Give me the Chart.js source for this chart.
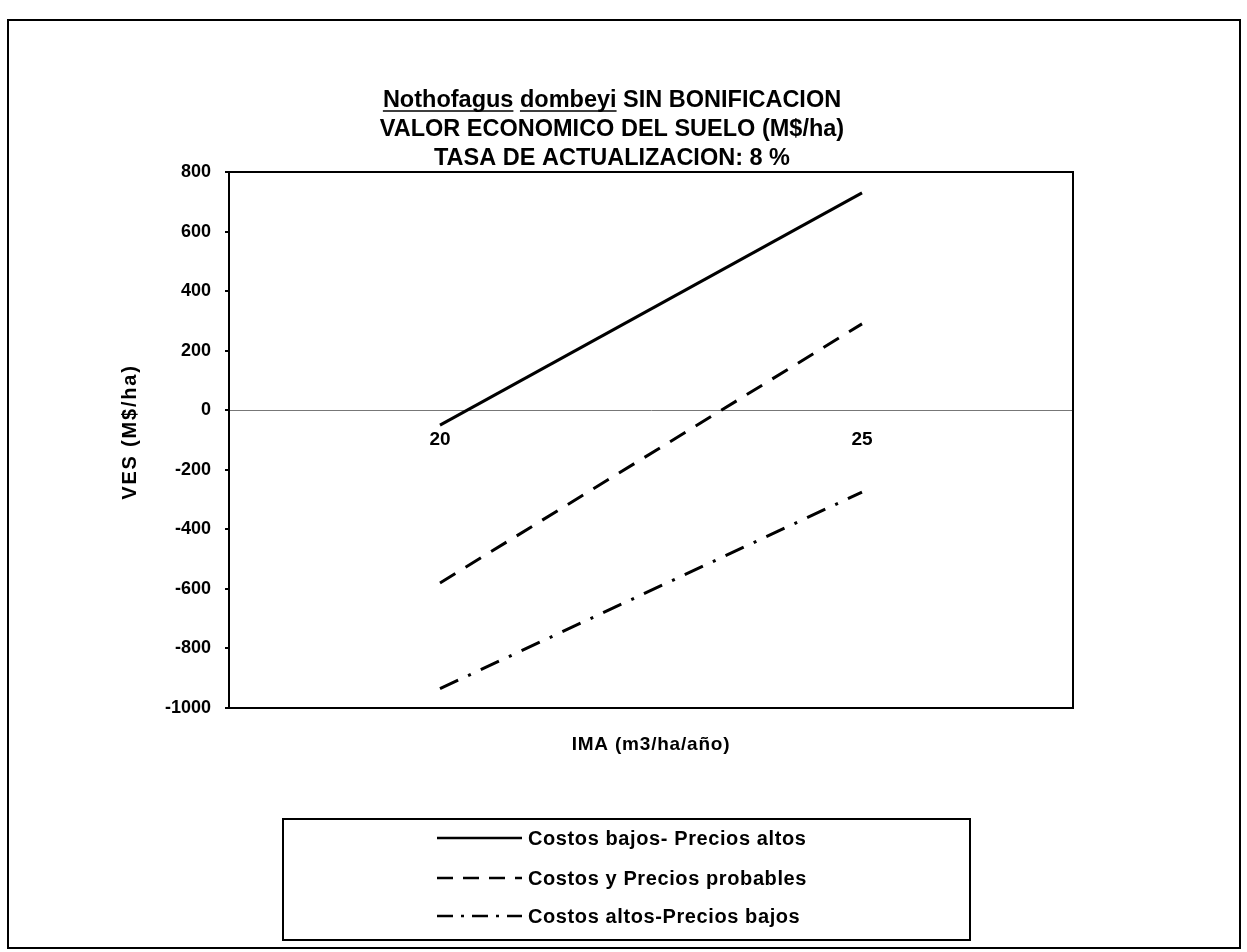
<!DOCTYPE html>
<html>
<head>
<meta charset="utf-8">
<script src="https://cdn.jsdelivr.net/npm/chart.js@4/dist/chart.umd.min.js"></script>
<style>
  html, body { margin: 0; padding: 0; background: #fff; }
  canvas { display: block; }
</style>
</head>
<body>
<canvas id="vesChart" width="1247" height="952"></canvas>
<script>
// IMA categories on the x axis
const categories = ['20', '25'];

// VES (M$/ha)
const costosBajosPreciosAltos = [-50, 730];
const costosPreciosProbables = [-580, 290];
const costosAltosPreciosBajos = [-935, -275];

const seriesLabels = [
  'Costos bajos- Precios altos',
  'Costos y Precios probables',
  'Costos altos-Precios bajos'
];

const titleLines = [
  'Nothofagus dombeyi SIN BONIFICACION',
  'VALOR ECONOMICO DEL SUELO (M$/ha)',
  'TASA DE ACTUALIZACION: 8 %'
];
const xTitle = 'IMA (m3/ha/año)';
const yTitle = 'VES (M$/ha)';

const FONT = '"Liberation Sans", Arial, sans-serif';

// --- frame, titles and legend drawn around the plot ---
const decorPlugin = {
  id: 'decorPlugin',
  afterDraw(chart) {
    const ctx = chart.ctx;
    const area = chart.chartArea;
    ctx.save();

    // outer border
    ctx.strokeStyle = '#000';
    ctx.lineWidth = 2;
    ctx.strokeRect(8, 20, 1232, 928);

    // plot frame
    ctx.strokeRect(area.left, area.top, area.right - area.left, area.bottom - area.top);

    // title
    ctx.fillStyle = '#000';
    ctx.textBaseline = 'alphabetic';
    ctx.font = 'bold 23.5px ' + FONT;
    const cx = 612;
    const ys = [107, 136, 165];
    titleLines.forEach((line, i) => {
      const w = ctx.measureText(line).width;
      const x0 = cx - w / 2;
      ctx.textAlign = 'left';
      ctx.fillText(line, x0, ys[i]);
      if (i === 0) {
        // underline species name words
        const w1 = ctx.measureText('Nothofagus').width;
        const w2 = ctx.measureText('Nothofagus ').width;
        const w3 = ctx.measureText('Nothofagus dombeyi').width;
        ctx.lineWidth = 1.5;
        ctx.beginPath();
        ctx.moveTo(x0, ys[i] + 4); ctx.lineTo(x0 + w1, ys[i] + 4);
        ctx.moveTo(x0 + w2, ys[i] + 4); ctx.lineTo(x0 + w3, ys[i] + 4);
        ctx.stroke();
      }
    });

    // x axis title
    ctx.font = 'bold 19px ' + FONT;
    ctx.letterSpacing = '0.8px';
    ctx.textAlign = 'center';
    ctx.textBaseline = 'middle';
    ctx.fillText(xTitle, (area.left + area.right) / 2, 745);

    // y axis title
    ctx.save();
    ctx.translate(130, 432);
    ctx.rotate(-Math.PI / 2);
    ctx.font = 'bold 20px ' + FONT;
    ctx.letterSpacing = '1.8px';
    ctx.fillText(yTitle, 0, 0);
    ctx.restore();

    // legend
    ctx.lineWidth = 2;
    ctx.strokeRect(283, 819, 687, 121);
    const rows = [838, 878, 916];
    ctx.font = 'bold 20px ' + FONT;
    ctx.letterSpacing = '0.6px';
    ctx.textAlign = 'left';
    chart.data.datasets.forEach((ds, i) => {
      ctx.save();
      ctx.lineWidth = 2.5;
      ctx.setLineDash(ds.legendDash || []);
      ctx.beginPath();
      ctx.moveTo(437, rows[i]);
      ctx.lineTo(522, rows[i]);
      ctx.stroke();
      ctx.restore();
      ctx.fillText(ds.label, 528, rows[i] + 1);
    });
    ctx.restore();
  }
};

const datasets = [
  {
    label: seriesLabels[0],
    data: costosBajosPreciosAltos,
    borderDash: [],
    legendDash: []
  },
  {
    label: seriesLabels[1],
    data: costosPreciosProbables,
    borderDash: [18, 12],
    legendDash: [16, 10]
  },
  {
    label: seriesLabels[2],
    data: costosAltosPreciosBajos,
    borderDash: [20, 11, 3, 11],
    legendDash: [16, 8, 3, 8]
  }
].map(ds => Object.assign(ds, {
  borderColor: '#000',
  borderWidth: 3,
  pointRadius: 0,
  fill: false,
  tension: 0
}));

new Chart(document.getElementById('vesChart').getContext('2d'), {
  type: 'line',
  data: { labels: categories, datasets: datasets },
  options: {
    responsive: false,
    animation: false,
    layout: { padding: { left: 110, right: 174, top: 172, bottom: 244 } },
    plugins: {
      legend: { display: false },
      title: { display: false },
      tooltip: { enabled: false }
    },
    scales: {
      x: {
        type: 'category',
        offset: true,
        position: { y: 0 },
        afterFit: (scale) => { scale.height = 0; },
        grid: { display: true, drawOnChartArea: false, drawTicks: false, color: 'rgba(0,0,0,0)' },
        border: { display: true, color: '#777', width: 1 },
        ticks: {
          color: '#000',
          padding: 18,
          font: { family: FONT, size: 19, weight: 'bold' }
        }
      },
      y: {
        min: -1000,
        max: 800,
        afterFit: (scale) => { scale.width = 119; },
        grid: { display: true, drawOnChartArea: false, tickLength: 4, color: '#000', lineWidth: 2 },
        border: { display: true, color: '#000', width: 2 },
        ticks: {
          stepSize: 200,
          color: '#000',
          padding: 14,
          callback: (v) => String(v),
          font: { family: FONT, size: 18, weight: 'bold' }
        }
      }
    }
  },
  plugins: [decorPlugin]
});
</script>
</body>
</html>
